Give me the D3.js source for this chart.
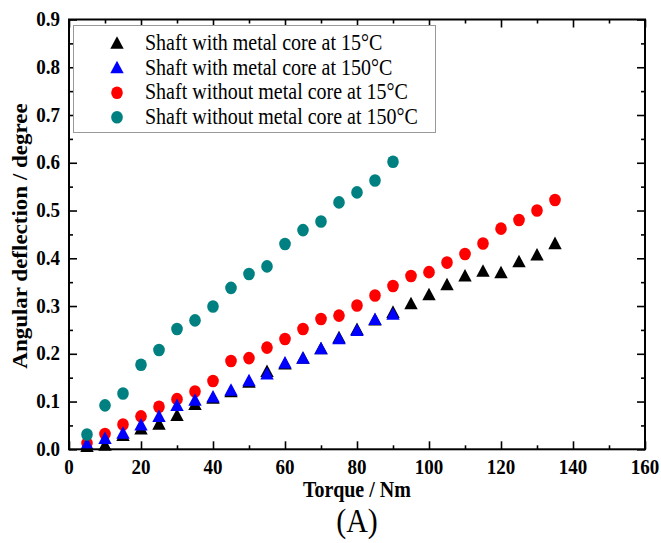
<!DOCTYPE html>
<html>
<head>
<meta charset="utf-8">
<script src="https://cdn.jsdelivr.net/npm/d3@7"></script>
<style>
  body { margin: 0; background: #fff; }
  text { font-family: "Liberation Serif", "Times New Roman", serif; }
</style>
</head>
<body>
<svg id="chart" width="661" height="543"></svg>
<script>
// torque values (Nm)
var torque = [5,10,15,20,25,30,35,40,45,50,55,60,65,70,75,80,85,90,95,100,105,110,115,120,125,130,135];

// angular deflection readings (degree)
var metal15 = [0.005,0.008,0.028,0.042,0.052,0.070,0.093,0.106,0.120,0.140,0.162,0.178,0.190,0.210,0.233,0.250,0.270,0.286,0.304,0.323,0.344,0.362,0.372,0.369,0.392,0.406,0.430];
var metal150 = [0.010,0.022,0.033,0.050,0.068,0.091,0.102,0.109,0.123,0.143,0.157,0.180,0.190,0.210,0.231,0.248,0.271,0.282];
var noMetal15 = [0.013,0.032,0.052,0.069,0.089,0.105,0.121,0.143,0.185,0.191,0.213,0.231,0.252,0.273,0.280,0.301,0.322,0.342,0.363,0.371,0.391,0.409,0.431,0.462,0.480,0.500,0.522];
var noMetal150 = [0.031,0.092,0.117,0.177,0.208,0.252,0.270,0.299,0.338,0.367,0.383,0.430,0.459,0.477,0.517,0.538,0.563,0.602];

var xTicks = [0,20,40,60,80,100,120,140,160];
var yTicks = [0,0.1,0.2,0.3,0.4,0.5,0.6,0.7,0.8,0.9];

var series = [
  {name: "Shaft with metal core at 15\u00b0C", vals: metal15, color: "#000000", shape: "tri"},
  {name: "Shaft with metal core at 150\u00b0C", vals: metal150, color: "#0000ff", shape: "tri"},
  {name: "Shaft without metal core at 15\u00b0C", vals: noMetal15, color: "#ff0000", shape: "circle"},
  {name: "Shaft without metal core at 150\u00b0C", vals: noMetal150, color: "#008080", shape: "circle"}
];
var drawOrder = [0, 2, 1, 3];

var svg = d3.select("#chart");
var pLeft = 69, pRight = 645, pTop = 19.5, pBottom = 449.3;
var stretch = 1.15; // the original figure is a bit taller than wide

var x = d3.scaleLinear().domain([0, 160]).range([pLeft, pRight]);
var y = d3.scaleLinear().domain([0, 0.9]).range([pBottom, pTop]);

var triangle = d3.symbol().type(d3.symbolTriangle).size(78);

function drawMark(sel, s) {
  if (s.shape == "tri") {
    sel.append("path").attr("d", triangle).attr("fill", s.color)
      .attr("transform", "scale(1,1.08)");
  } else {
    sel.append("ellipse").attr("rx", 5.8).attr("ry", 6.3).attr("fill", s.color);
  }
}

// stretched text helper
function label(px, py, str, size, opts) {
  opts = opts || {};
  var g = svg.append("g").attr("transform", "translate(" + px + "," + py + ")" +
    (opts.rotate ? " rotate(-90) scale(" + stretch + ",1)" : " scale(1," + stretch + ")"));
  return g.append("text")
    .attr("text-anchor", opts.anchor || "middle")
    .attr("font-size", size)
    .attr("font-weight", opts.bold ? "bold" : "normal")
    .attr("fill", "#000")
    .text(str);
}

// points
drawOrder.forEach(function(k) {
  var s = series[k];
  var g = svg.append("g");
  var pts = g.selectAll("g")
    .data(s.vals)
    .enter().append("g")
    .attr("transform", function(d, i) { return "translate(" + x(torque[i]) + "," + (y(d) + (s.shape == "tri" ? 1 : 0)) + ")"; });
  drawMark(pts, s);
});

// axes with inward ticks on all sides
function tickAxis(axis, pos, tv, len) {
  var g = svg.append("g").attr("transform", pos);
  g.call(axis.tickValues(tv).tickSize(len).tickSizeOuter(0).tickFormat(""));
  g.select(".domain").remove();
  g.selectAll(".tick line").attr("stroke", "#000").attr("stroke-width", 1.6);
  return g;
}
var xMinor = d3.range(10, 160, 20);
var yMinor = d3.range(0.05, 0.9, 0.1);

tickAxis(d3.axisTop(x), "translate(0," + pBottom + ")", xTicks, 8);
tickAxis(d3.axisTop(x), "translate(0," + pBottom + ")", xMinor, 4);
tickAxis(d3.axisBottom(x), "translate(0," + pTop + ")", xTicks, 8);
tickAxis(d3.axisBottom(x), "translate(0," + pTop + ")", xMinor, 4);
tickAxis(d3.axisRight(y), "translate(" + pLeft + ",0)", yTicks, 8);
tickAxis(d3.axisRight(y), "translate(" + pLeft + ",0)", yMinor, 4);
tickAxis(d3.axisLeft(y), "translate(" + pRight + ",0)", yTicks, 8);
tickAxis(d3.axisLeft(y), "translate(" + pRight + ",0)", yMinor, 4);

xTicks.forEach(function(t) {
  label(x(t), 474, String(t), 19, {bold: true});
});
yTicks.forEach(function(t) {
  label(pLeft - 9, y(t) + 6.5, d3.format(".1f")(t), 19, {bold: true, anchor: "end"});
});

// frame
svg.append("rect")
  .attr("x", pLeft).attr("y", pTop)
  .attr("width", pRight - pLeft).attr("height", pBottom - pTop)
  .attr("fill", "none").attr("stroke", "#000").attr("stroke-width", 2);

// axis titles
label((pLeft + pRight) / 2, 497, "Torque / Nm", 20, {bold: true});
label(27, 236, "Angular deflection / degree", 20, {bold: true, rotate: true});
label(357, 532, "(A)", 30);

// legend
svg.append("rect")
  .attr("x", 73.5).attr("y", 25.5).attr("width", 362).attr("height", 107)
  .attr("fill", "#fff").attr("stroke", "#999").attr("stroke-width", 1);
series.forEach(function(s, i) {
  var cy = 43.5 + i * 24.6;
  var m = svg.append("g").attr("transform", "translate(117," + (cy + (s.shape == "tri" ? 1 : 0)) + ")");
  drawMark(m, s);
  label(145, cy + 6.5, s.name, 20, {anchor: "start"});
});
</script>
</body>
</html>
